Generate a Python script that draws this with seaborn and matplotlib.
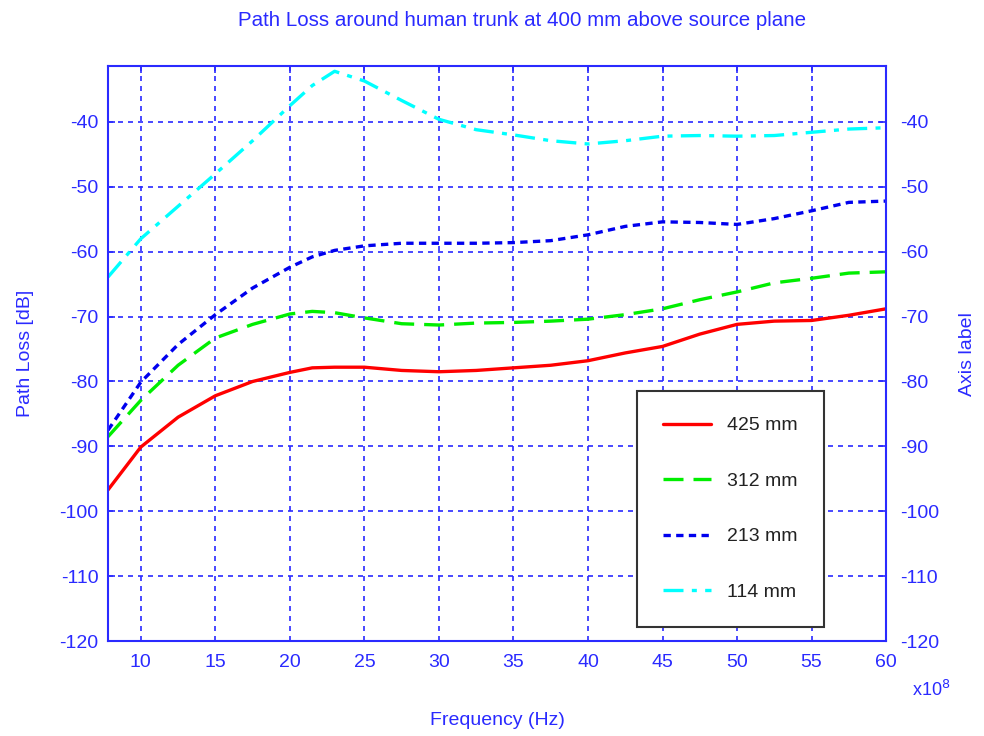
import pandas as pd
import matplotlib
matplotlib.use("Agg")
import matplotlib.pyplot as plt
import seaborn as sns

# Frequency axis (in units of 1e8 Hz) and path loss per antenna height
freq = [7.8, 10, 12.5, 15, 17.5, 20, 21.5, 23, 25, 27.5, 30, 32.5, 35, 37.5,
        40, 42.5, 45, 47.5, 50, 52.5, 55, 57.5, 60]

loss_425 = [-96.7, -90.1, -85.5, -82.2, -80.0, -78.6, -77.9, -77.8, -77.8, -78.3,
            -78.5, -78.3, -77.9, -77.5, -76.8, -75.6, -74.6, -72.7, -71.2, -70.7,
            -70.6, -69.8, -68.8]
loss_312 = [-88.5, -82.9, -77.5, -73.3, -71.2, -69.6, -69.2, -69.4, -70.2, -71.1,
            -71.3, -71.0, -70.9, -70.7, -70.4, -69.7, -68.8, -67.4, -66.2, -64.8,
            -64.1, -63.3, -63.1]
loss_213 = [-87.5, -80.1, -74.3, -69.7, -65.6, -62.4, -60.8, -59.8, -59.1, -58.7,
            -58.7, -58.7, -58.6, -58.3, -57.4, -56.1, -55.4, -55.5, -55.8, -54.9,
            -53.7, -52.4, -52.2]
loss_114 = [-63.9, -58.0, -53.0, -48.0, -42.9, -37.5, -34.4, -32.2, -33.7, -36.7,
            -39.6, -41.2, -42.0, -42.9, -43.4, -42.9, -42.2, -42.1, -42.2, -42.1,
            -41.6, -41.1, -40.9]

labels = ["425 mm", "312 mm", "213 mm", "114 mm"]
colors = ["#ff0000", "#00ee00", "#0000ee", "#00ffff"]
dashes = ["-", (0, (6, 3)), (0, (2.2, 1.6)), (0, (6, 2.5, 1.5, 2.5))]

blue = "#2a2aff"

sns.set_theme(style="white")
plt.rcParams["font.family"] = ["Liberation Sans", "DejaVu Sans"]
plt.rcParams["axes.unicode_minus"] = False

fig = plt.figure(figsize=(9.84, 7.36), dpi=100)
ax = fig.add_axes([0.1098, 0.129, 0.7907, 0.7812])

series = [loss_425, loss_312, loss_213, loss_114]
for values, label, color, ls in zip(series, labels, colors, dashes):
    df = pd.DataFrame({"freq": freq, "loss": values})
    sns.lineplot(data=df, x="freq", y="loss", ax=ax, color=color,
                 linewidth=2.4, label=label, linestyle=ls)

ax.set_xlim(7.8, 60)
ax.set_ylim(-120, -31.4)
ax.set_xticks(range(10, 61, 5))
ax.set_yticks(range(-120, -39, 10))

ax.grid(True, color=blue, linestyle=(0, (3, 3)), linewidth=1.2)
for spine in ax.spines.values():
    spine.set_color(blue)
    spine.set_linewidth(1.5)

ax.tick_params(axis="both", colors=blue, labelsize=14, direction="in",
               length=5, width=1.2, top=True)
ax.tick_params(axis="y", pad=7)
ax.tick_params(axis="x", pad=9)

ax.set_xlabel("Frequency (Hz)", color=blue, fontsize=14, labelpad=30)
ax.set_ylabel("Path Loss [dB]", color=blue, fontsize=14, labelpad=18)

ax2 = ax.twinx()
ax2.set_ylim(ax.get_ylim())
ax2.set_yticks(range(-120, -39, 10))
ax2.tick_params(axis="y", colors=blue, labelsize=14, direction="in",
                length=5, width=1.2, pad=10)
ax2.set_ylabel("Axis label", color=blue, fontsize=14, labelpad=14)
for spine in ax2.spines.values():
    spine.set_visible(False)

ax.text(1.058, -0.085, "x10$^8$", transform=ax.transAxes, color=blue,
        fontsize=13, ha="center", va="center")

fig.text(0.530, 0.972, "Path Loss around human trunk at 400 mm above source plane",
         color=blue, fontsize=14.8, ha="center", va="center")

leg = ax.legend(loc="lower right", bbox_to_anchor=(0.920, 0.024),
                borderaxespad=0, fontsize=14, labelspacing=1.95,
                handlelength=2.5, handletextpad=0.8, borderpad=1.35,
                fancybox=False, framealpha=1, edgecolor="#333333")
leg.get_frame().set_linewidth(1.5)
for t in leg.get_texts():
    t.set_color("#222222")

fig.savefig("out.png", dpi=100, facecolor="white")
plt.close(fig)
